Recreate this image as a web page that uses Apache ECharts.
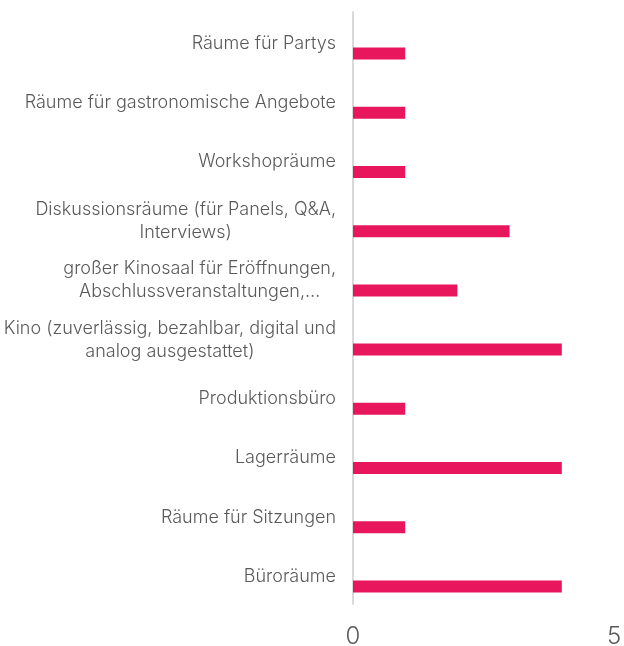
<!DOCTYPE html>
<html>
<head>
<meta charset="utf-8">
<script src="https://cdn.jsdelivr.net/npm/echarts@6/dist/echarts.min.js"></script>
<style>
  html, body { margin: 0; padding: 0; background: #ffffff; }
  #chart { width: 624px; height: 646px; }
</style>
</head>
<body>
<div id="chart"></div>
<script>
// Room needs, listed top to bottom
const categories = [
  'Räume für Partys',
  'Räume für gastronomische Angebote',
  'Workshopräume',
  'Diskussionsräume (für Panels, Q&A,\nInterviews)',
  'großer Kinosaal für Eröffnungen,\nAbschlussveranstaltungen,…',
  'Kino (zuverlässig, bezahlbar, digital und\nanalog ausgestattet)',
  'Produktionsbüro',
  'Lagerräume',
  'Räume für Sitzungen',
  'Büroräume'
];
const counts = [1, 1, 1, 3, 2, 4, 1, 4, 1, 4];
const valueTicks = [0, 5];

const FONT = 'Inter, "Noto Sans", sans-serif';
const TEXT_COLOR = '#595959';
const chart = echarts.init(document.getElementById('chart'), null, { renderer: 'canvas' });

chart.setOption({
  backgroundColor: '#ffffff',
  animation: false,
  grid: { left: 353, right: 10, top: 12, bottom: 42, outerBoundsMode: 'none' },
  xAxis: {
    type: 'value',
    min: valueTicks[0],
    max: valueTicks[valueTicks.length - 1],
    interval: valueTicks[1] - valueTicks[0],
    axisLine: { show: false },
    axisTick: { show: false },
    splitLine: { show: false },
    axisLabel: {
      color: TEXT_COLOR,
      fontFamily: FONT,
      fontWeight: 300,
      fontSize: 24,
      margin: 21
    }
  },
  yAxis: {
    type: 'category',
    inverse: true,
    data: categories,
    axisLine: { show: true, lineStyle: { color: '#d9d9d9', width: 2 } },
    axisTick: { show: false },
    axisLabel: {
      align: 'right',
      margin: 17,
      padding: [4, 0, 0, 0],
      // each line of a wrapped label is centred within its block
      formatter: (v) => v.split('\n').map((s) => '{c|' + s + '}').join('\n'),
      rich: {
        c: {
          align: 'center',
          color: TEXT_COLOR,
          fontFamily: FONT,
          fontWeight: 300,
          fontSize: 18,
          lineHeight: 23
        }
      }
    }
  },
  series: [
    {
      // spacer that holds the upper slot of each band
      type: 'bar',
      data: categories.map(() => '-'),
      barWidth: 12,
      silent: true
    },
    {
      type: 'bar',
      data: counts,
      barWidth: 12,
      barGap: '100%',
      itemStyle: { color: '#e8175d' }
    }
  ]
});
</script>
</body>
</html>
